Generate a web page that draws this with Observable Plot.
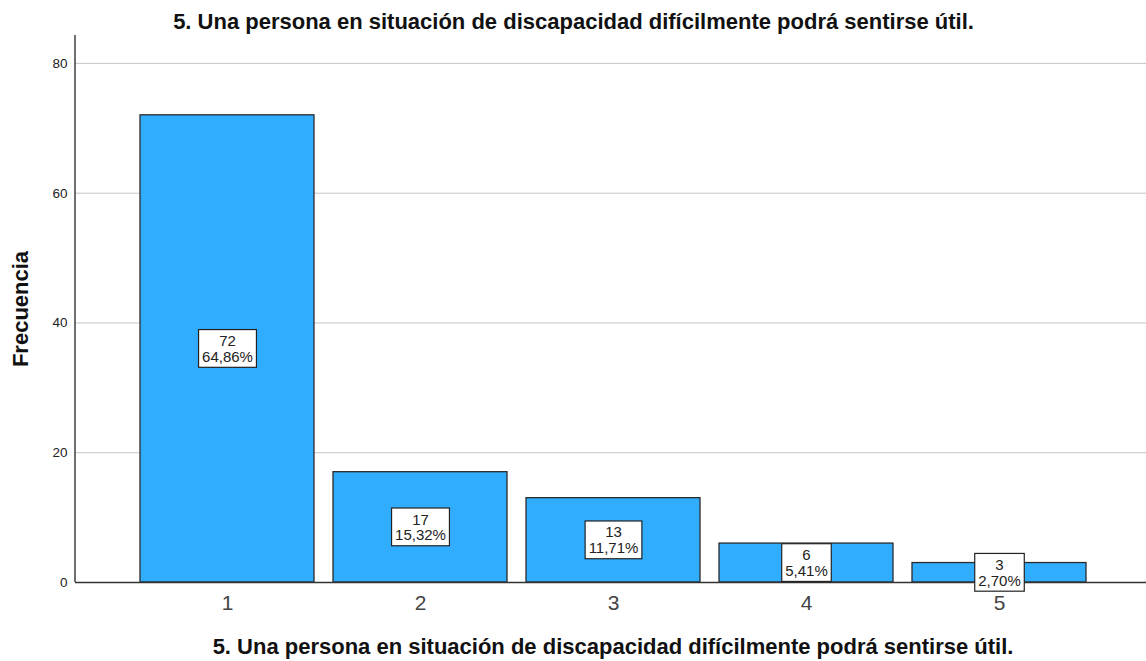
<!DOCTYPE html>
<html><head><meta charset="utf-8">
<script src="https://cdn.jsdelivr.net/npm/d3@7"></script>
<script src="https://cdn.jsdelivr.net/npm/@observablehq/plot@0.6"></script>
<style>
html,body{margin:0;padding:0;background:#fff;}
#chart{width:1146px;height:661px;}
</style>
</head><body><div id="chart"></div>
<script>
const title = "5. Una persona en situación de discapacidad difícilmente podrá sentirse útil.";
const categories = ["1", "2", "3", "4", "5"];
const counts = [72, 17, 13, 6, 3];
const percents = ["64,86%", "15,32%", "11,71%", "5,41%", "2,70%"];
const yTicks = [0, 20, 40, 60, 80];
const yLabel = "Frecuencia";

const data = categories.map((c, i) => ({cat: c, n: counts[i], pct: percents[i]}));
const FONT = "'Liberation Sans', Arial, sans-serif";

const chart = Plot.plot({
  width: 1146,
  height: 661,
  marginLeft: 75,
  marginRight: 0,
  marginTop: 35,
  marginBottom: 79,
  style: {fontFamily: FONT, background: "#fff", overflow: "visible"},
  x: {domain: categories, range: [80, 1146], paddingInner: 0.1, paddingOuter: 0.3, label: null},
  y: {domain: [0, 84.3], label: null},
  marks: [
    Plot.ruleY(yTicks.filter(d => d > 0), {stroke: "#c6c6c6", strokeWidth: 1}),
    Plot.barY(data, {x: "cat", y: "n", fill: "#31adff", stroke: "#2b2b2b", strokeWidth: 1.3}),
    Plot.ruleY([0], {stroke: "#333", strokeWidth: 1.3}),
    Plot.axisY({ticks: yTicks, tickSize: 0, tickPadding: 8, fontSize: 13.5, fill: "#222", label: null}),
    Plot.axisX({tickSize: 0, tickPadding: 13, fontSize: 21, fill: "#444", label: null}),
    Plot.text(data, {x: "cat", y: d => d.n / 2, text: d => d.n + "\n" + d.pct, fontSize: 15, lineHeight: 1.05, fill: "#222"}),
    Plot.text([title], {frameAnchor: "top", dx: -37.5, dy: -22, fontSize: 22, fontWeight: "bold", fill: "#111"}),
    Plot.text([title], {frameAnchor: "bottom", dx: 2, dy: 71, fontSize: 22, fontWeight: "bold", fill: "#111"}),
    Plot.text([yLabel], {frameAnchor: "left", textAnchor: "middle", dx: -55, rotate: -90, fontSize: 22, fontWeight: "bold", fill: "#111"})
  ]
});
document.getElementById("chart").appendChild(chart);

// y axis line along the y scale's range at the left edge of the frame
const ys = chart.scale("y");
const NS = "http://www.w3.org/2000/svg";
const axisLine = document.createElementNS(NS, "line");
axisLine.setAttribute("x1", 75); axisLine.setAttribute("x2", 75);
axisLine.setAttribute("y1", ys.range[0]); axisLine.setAttribute("y2", ys.range[1]);
axisLine.setAttribute("stroke", "#222"); axisLine.setAttribute("stroke-width", "1.3");
chart.appendChild(axisLine);

// white boxes behind value labels
chart.querySelectorAll("text").forEach(t => {
  if (!t.textContent.includes("%")) return;
  const b = t.getBBox();
  const r = document.createElementNS(NS, "rect");
  r.setAttribute("x", b.x - 3.5);
  r.setAttribute("y", b.y - 2.5);
  r.setAttribute("width", b.width + 7);
  r.setAttribute("height", b.height + 5);
  r.setAttribute("fill", "#fff");
  r.setAttribute("stroke", "#222");
  r.setAttribute("stroke-width", "1.2");
  const tr = t.getAttribute("transform");
  if (tr) r.setAttribute("transform", tr);
  t.parentNode.insertBefore(r, t);
});
</script>
</body></html>
